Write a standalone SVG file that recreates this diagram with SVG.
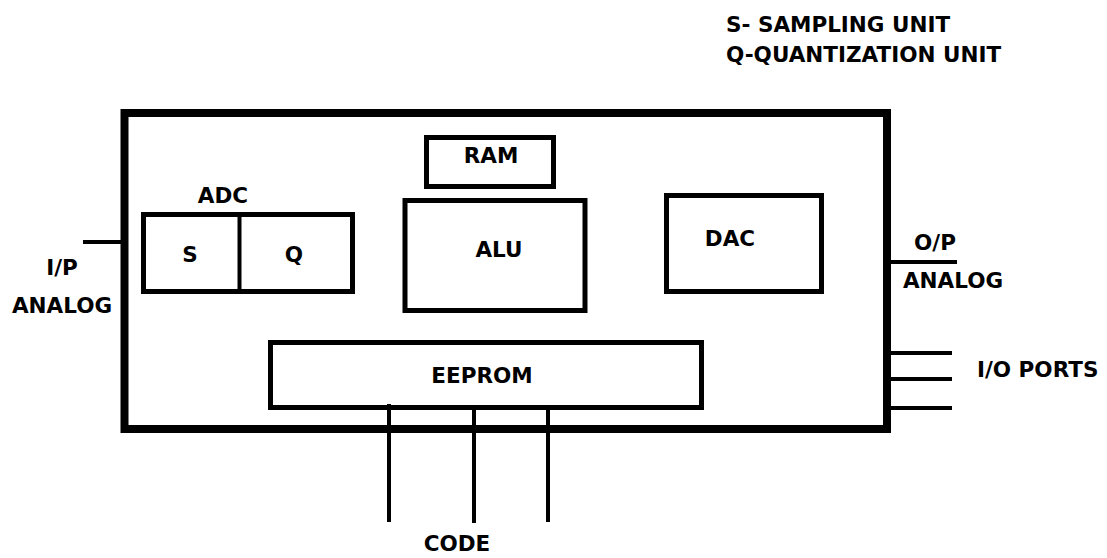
<svg xmlns="http://www.w3.org/2000/svg" width="1107" height="558" viewBox="0 0 1107 558">
<style>
text{font-family:"DejaVu Sans","Verdana","Liberation Sans",sans-serif;font-weight:bold;font-size:21.5px;fill:#000;}
.m{text-anchor:middle;}
.box{fill:none;stroke:#000;stroke-width:5;}
.ln{stroke:#000;stroke-width:4;fill:none;}
</style>
<rect width="1107" height="558" fill="#fff"/>
<g id="legend">
<text x="726" y="32">S- SAMPLING UNIT</text>
<text x="726" y="62">Q-QUANTIZATION UNIT</text>
</g>
<g id="microcontroller">
<rect x="124.5" y="113" width="762.5" height="316" fill="none" stroke="#000" stroke-width="8"/>
</g>
<g id="adc">
<text class="m" x="223" y="203">ADC</text>
<rect class="box" x="143.5" y="214.5" width="209" height="77"/>
<line class="ln" x1="239.5" y1="214.5" x2="239.5" y2="291.5" stroke-width="5"/>
<text class="m" x="190" y="262">S</text>
<text class="m" x="294" y="262">Q</text>
</g>
<g id="ram">
<rect class="box" x="426.5" y="137.5" width="127" height="49"/>
<text class="m" x="491" y="163">RAM</text>
</g>
<g id="alu">
<rect class="box" x="405" y="200.5" width="180" height="110"/>
<text class="m" x="499" y="257">ALU</text>
</g>
<g id="dac">
<rect class="box" x="666.5" y="195.5" width="155" height="96"/>
<text class="m" x="730" y="246">DAC</text>
</g>
<g id="eeprom">
<rect class="box" x="270.5" y="342.5" width="431" height="65"/>
<text class="m" x="482" y="383">EEPROM</text>
</g>
<g id="connectors">
<line class="ln" x1="83" y1="242" x2="121" y2="242"/>
<line class="ln" x1="891" y1="262" x2="957" y2="262"/>
<line class="ln" x1="891" y1="353" x2="952" y2="353"/>
<line class="ln" x1="891" y1="379" x2="952" y2="379"/>
<line class="ln" x1="891" y1="408" x2="952" y2="408"/>
<line class="ln" x1="389" y1="404" x2="389" y2="522"/>
<line class="ln" x1="474" y1="410" x2="474" y2="523"/>
<line class="ln" x1="548" y1="410" x2="548" y2="522"/>
</g>
<g id="labels">
<text class="m" x="62" y="275">I/P</text>
<text class="m" x="62" y="313">ANALOG</text>
<text class="m" x="935" y="250">O/P</text>
<text class="m" x="953" y="288">ANALOG</text>
<text x="977" y="377">I/O PORTS</text>
<text class="m" x="457" y="551">CODE</text>
</g>
</svg>
